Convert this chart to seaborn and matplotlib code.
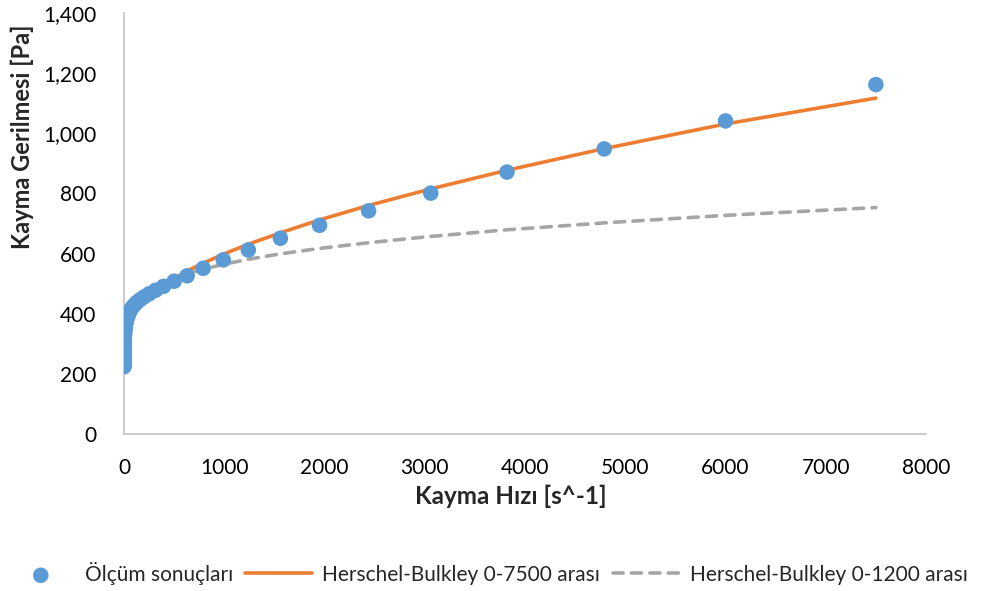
import matplotlib
matplotlib.use("Agg")
import matplotlib.pyplot as plt
from matplotlib.ticker import FuncFormatter
import seaborn as sns
import pandas as pd

# Shear rate [1/s] of the measured points
shear_rate = [7500, 6000, 4790, 3820, 3060, 2440, 1950, 1560, 1240, 990,
              790, 630, 500, 395, 315, 250, 200, 158, 126, 100,
              80, 63, 50, 40, 31.5, 25, 20, 15.8, 12.6, 10,
              7.9, 6.3, 5, 4, 3.15, 2.5, 2, 1.58, 1.26, 1,
              0.79, 0.63, 0.5, 0.4, 0.315, 0.25, 0.2, 0.158, 0.126, 0.1]

# Measured shear stress [Pa]
measured_stress = [1162, 1041, 948, 871, 801, 742, 694, 651, 612, 579,
                   551, 526, 508, 491, 478, 466, 456, 446, 437, 428,
                   420, 411, 402, 393, 385, 378, 371, 364, 357, 350,
                   343, 336, 330, 323, 316, 309, 302, 295, 288, 281,
                   274, 267, 260, 253, 246, 240, 235, 231, 228, 224]

# Herschel-Bulkley model fitted over 0-7500 1/s
hb_full = [1117, 1031, 949, 877, 815, 760, 712, 669, 631, 598,
           568, 542, 518, 497, 479, 463, 449, 437, 426, 416,
           408, 400, 394, 388, 383, 378, 374, 371, 368, 365,
           362, 360, 358, 357, 355, 354, 353, 352, 351, 350,
           350, 349, 349, 348, 348, 348, 347, 347, 347, 347]

# Herschel-Bulkley model fitted over 0-1200 1/s
hb_low = [753, 727, 702, 679, 657, 636, 617, 599, 581, 564,
          548, 534, 519, 505, 493, 481, 470, 459, 449, 439,
          431, 422, 414, 406, 399, 392, 386, 380, 374, 369,
          364, 359, 354, 350, 346, 342, 339, 335, 332, 329,
          326, 323, 321, 319, 316, 314, 312, 310, 308, 307]

x_ticks = [0, 1000, 2000, 3000, 4000, 5000, 6000, 7000, 8000]
y_ticks = [0, 200, 400, 600, 800, 1000, 1200, 1400]

label_points = "Ölçüm sonuçları"
label_full = "Herschel-Bulkley 0-7500 arası"
label_low = "Herschel-Bulkley 0-1200 arası"

df = pd.DataFrame({"rate": shear_rate, "stress": measured_stress,
                   "hb_full": hb_full, "hb_low": hb_low})

sns.set_theme(style="white")
plt.rcParams["font.family"] = ["Lato", "DejaVu Sans"]

fig = plt.figure(figsize=(9.85, 5.91), dpi=100)
ax = fig.add_axes([0.1259, 0.2657, 0.8142, 0.7123])

blue = "#5B9BD5"
orange = "#ED7D31"
grey = "#A5A5A5"

sns.lineplot(data=df, x="rate", y="hb_full", ax=ax, color=orange, lw=2.6,
             sort=True, estimator=None, label=label_full, zorder=2)
sns.lineplot(data=df, x="rate", y="hb_low", ax=ax, color=grey, lw=2.6,
             sort=True, estimator=None, label=label_low, zorder=2,
             dashes=False)
ax.lines[-1].set_dashes([2.8, 2.3])
ax.lines[-1].set_dash_capstyle("round")
sns.scatterplot(data=df, x="rate", y="stress", ax=ax, color=blue, s=125,
                edgecolor="none", label=label_points, zorder=3)

ax.set_xlim(0, 8000)
ax.set_ylim(0, 1400)
ax.set_xticks(x_ticks)
ax.set_yticks(y_ticks)
ax.yaxis.set_major_formatter(FuncFormatter(lambda v, p: f"{int(v):,}"))
ax.tick_params(axis="both", length=0, labelsize=15, colors="#000000")
ax.tick_params(axis="x", pad=17)
ax.tick_params(axis="y", pad=20)

for side in ["top", "right"]:
    ax.spines[side].set_visible(False)
for side in ["left", "bottom"]:
    ax.spines[side].set_color("#C8C8C8")
    ax.spines[side].set_linewidth(1.3)

ax.set_xlabel("Kayma Hızı [s^-1]", fontsize=17.5, fontweight="bold", va="center")
ax.set_ylabel("Kayma Gerilmesi [Pa]", fontsize=17, fontweight="bold", va="center")
ax.xaxis.set_label_coords(0.4826, -0.147)
ax.yaxis.set_label_coords(-0.127, 0.705)

handles, labels = ax.get_legend_handles_labels()
order = [labels.index(label_points), labels.index(label_full), labels.index(label_low)]
ax.get_legend().remove()
fig.legend([handles[i] for i in order], [labels[i] for i in order],
           loc="center", bbox_to_anchor=(0.495, 0.03), ncol=3, frameon=False,
           fontsize=15, handlelength=3.2, columnspacing=0.6, handletextpad=0.5)

fig.savefig("out.png", dpi=100, facecolor="white")
